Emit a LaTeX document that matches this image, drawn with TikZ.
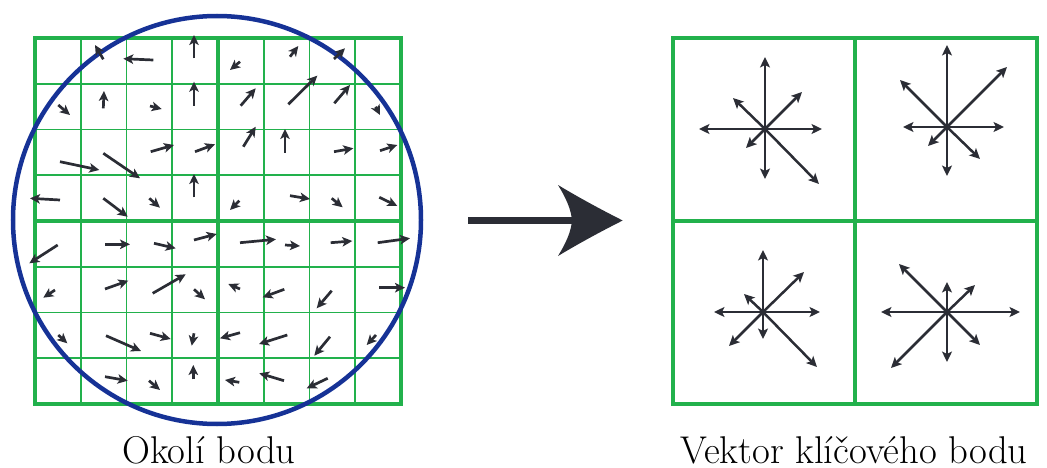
\documentclass[tikz,border=0pt]{standalone}
\usepackage{fontspec}
\usetikzlibrary{arrows.meta}
\definecolor{gridgreen}{RGB}{34,177,76}
\definecolor{circblue}{RGB}{22,50,150}
\definecolor{arrdark}{RGB}{43,45,53}
\tikzset{
  gthick/.style={draw=gridgreen,line width=4.5pt},
  gthin/.style={draw=gridgreen,line width=1.8pt},
  circ/.style={draw=circblue,line width=4.5pt},
  sarr/.style={draw=arrdark,line width=2.7pt,-{Stealth[length=10pt,width=9.5pt,inset=2.5pt]}},
  darr/.style={draw=arrdark,line width=2.5pt,-{Stealth[length=10.5pt,width=10pt,inset=2.5pt]}},
  lbl/.style={anchor=base,inner sep=0pt,text depth=0pt,font=\fontsize{38.7}{46}\selectfont}
}
\begin{document}
\begin{tikzpicture}[x=1pt,y=-1pt]
\useasboundingbox (0,0) rectangle (1047,468);
% ---- left grid ----
\foreach \i in {1,2,3,5,6,7}{
  \draw[gthin] ({35+\i*45.75},38) -- ({35+\i*45.75},404);
  \draw[gthin] (35,{38+\i*45.75}) -- (401,{38+\i*45.75});
}
\draw[gthick] (218,38) -- (218,404);
\draw[gthick] (35,221) -- (401,221);
\draw[gthick] (35,38) rectangle (401,404);
% circle
\coordinate (cc) at (217,220);
\draw[circ] (cc) circle[radius=204];
% small gradient arrows (tail/tip)
\foreach \ax/\ay/\bx/\by in {
 103.3/59.3/95/45, 153.3/60/123.3/58.7, 194/58.3/194/35,
 58.3/105/70/115, 103.3/108.3/104/91, 150/106/161.7/109, 194/106/194/81.7,
 150.7/151.7/174/145, 195/151.7/215/144.3, 60/161.7/99.3/170, 103.3/153.3/140/178.3,
 194/197.3/194/174, 60/200/30/198.3, 103.3/198.3/127.7/216.7, 149.3/198.3/160/207.7,
 240/61.7/230/70, 290/56.7/298.3/46, 334/59/345/48.3,
 240.7/105.7/255.7/88.3, 288.3/104.3/317.3/75.7, 334.3/103.3/350/85, 375.7/106.7/380/115,
 243.3/146.7/255.7/126.7, 285/152.7/285/129, 334/151.7/353.3/148.3, 380/150.7/397.3/145,
 239.3/200.7/230/210, 290/195.7/310/199, 331.7/198.3/342.7/207.3, 379.3/197.3/397.3/206,
 57.7/245/29.3/263.3, 105/244.3/130/244.3, 154/243.3/175.7/248.3, 194/240/216.7/234,
 55/290/43.3/297.7, 105/289/128.3/280.7, 152.7/293.3/185.7/274.3, 194/289.3/205/299.3,
 58.3/335/67.3/343.3, 106/335.7/141/351, 150/333.3/170.7/339, 194/333.3/191.7/345.7,
 105/376.7/127.7/380.7, 149/380.7/160/390, 193.3/379.3/193.3/365,
 240/242.7/276/239.3, 285/245/300/246, 330.7/242.7/352.3/241, 377.7/242.7/410/238.3,
 240/289/228.3/284, 284.3/289.3/262.7/297.3, 331.7/290.7/316.7/308.3, 379/287.7/405/287.7,
 240/332.7/220/338.3, 287.3/335/259/344, 330/336.7/314.3/355.7, 376/335/366.7/345,
 239.3/382.3/225/380, 284/380.7/259.3/373.3, 327.7/378.3/306.7/388.3}
 {\draw[sarr] (\ax,\ay) -- (\bx,\by);}
% ---- big arrow ----
\coordinate (as) at (468,220.5);
\coordinate (an) at (574,220.5);
\coordinate (at) at (622.7,220.5);
\draw[draw=arrdark,line width=7pt] (as) -- (an);
\fill[arrdark] (at) .. controls (598,208) and (578,197) .. (558,185)
  .. controls (566,198) and (571,209) .. (572,220.5)
  .. controls (571,232) and (566,243) .. (558,256)
  .. controls (578,244) and (598,233) .. (at) -- cycle;
% ---- right grid ----
\draw[gthick] (855,38) -- (855,404);
\draw[gthick] (673,221) -- (1037,221);
\draw[gthick] (673,38) rectangle (1037,404);
% descriptors
\coordinate (d1) at (765,129);
\coordinate (d2) at (947,127);
\coordinate (d3) at (763,312);
\coordinate (d4) at (947,312);
\foreach \a/\b in {0/-72,0/50,57/0,-66/0,37/-37,-32/-31,-19/19,54/55}
  {\draw[darr] (d1) -- ++(\a,\b);}
\foreach \a/\b in {0/-82,0/49,57/0,-44/0,60/-60,-47/-47,-19/19,33/32}
  {\draw[darr] (d2) -- ++(\a,\b);}
\foreach \a/\b in {0/-62,0/27,57/0,-49/0,41/-40,-19/-18,-34/34,54/55}
  {\draw[darr] (d3) -- ++(\a,\b);}
\foreach \a/\b in {0/-30,0/50,73/0,-66/0,28/-27,-48/-48,-56/56,33/33}
  {\draw[darr] (d4) -- ++(\a,\b);}
% ---- labels ----
\node[lbl] (l1) at (209,463.5) {Okolí bodu};
\node[lbl] (l2) at (854,463.5) {Vektor klíčového bodu};
\end{tikzpicture}
\end{document}
